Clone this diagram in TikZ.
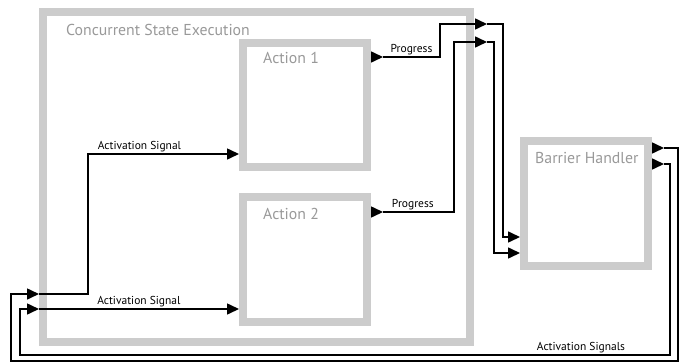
\documentclass[tikz,border=0pt]{standalone}
\usepackage{fontspec}
\setmainfont{PT Sans}
\usetikzlibrary{arrows.meta}
\definecolor{boxgray}{HTML}{CCCCCC}
\definecolor{titlegray}{HTML}{999999}

\begin{document}
\begin{tikzpicture}
  [
    x = 1pt, y = -1pt,
    box/.style = {draw = boxgray, line width = 8pt, inner sep = 0pt},
    title/.style = {text = titlegray, anchor = base west, inner sep = 0pt, font = \fontsize{15.8}{18}\selectfont},
    wire/.style = {line width = 1.6pt},
    tip/.style = {-{Triangle[length = 12pt, width = 11pt]}},
    sig/.style = {inner sep = 1.5pt, font = \fontsize{11.5}{13}\selectfont},
  ]

  \useasboundingbox (0,0) rectangle (683,362);

  \node[box, minimum width = 427pt, minimum height = 330pt] (cse) at (256.5,177) {};
  \node[box, minimum width = 124pt, minimum height = 124pt] (act1) at (305,105) {};
  \node[box, minimum width = 124pt, minimum height = 125pt] (act2) at (305,259.5) {};
  \node[box, minimum width = 124pt, minimum height = 125pt] (barrier) at (586,203.5) {};

  \node[title] (cse-title) at (66,35) {Concurrent State Execution};
  \node[title] (act1-title) at (263,63) {Action 1};
  \node[title] (act2-title) at (263,219) {Action 2};
  \node[title] (barrier-title) at (535,163) {Barrier Handler};

  \coordinate (act1-out) at (383,57);
  \coordinate (act2-out) at (383,212);
  \coordinate (cse-out1) at (487,24);
  \coordinate (cse-out2) at (487,42);
  \coordinate (barrier-out1) at (664,148);
  \coordinate (barrier-out2) at (664,164);
  \coordinate (cse-in1) at (cse.west |- 0,294);
  \coordinate (cse-in2) at (cse.west |- 0,309);

  \draw[wire, tip] (act1.east |- act1-out) -- (act1-out);
  \draw[wire, tip] (act2.east |- act2-out) -- (act2-out);
  \draw[wire, tip] (barrier.east |- barrier-out1) -- (barrier-out1);
  \draw[wire, tip] (barrier.east |- barrier-out2) -- (barrier-out2);

  \draw[wire, tip] (act1-out) -- node[sig, above] {Progress} ++(57,0) |- (cse-out1);
  \draw[wire, tip] (act2-out) -- node[sig, above, pos = 0.42] {Progress} ++(71,0) |- (cse-out2);
  \draw[wire, tip] (cse-out1) -| (503,237) -- (barrier.west |- 0,237);
  \draw[wire, tip] (cse-out2) -| (494,253) -- (barrier.west |- 0,253);

  \draw[wire, tip] (barrier-out1) -| (678,361) -| (11,294) -- (cse-in1);
  \draw[wire, tip] (barrier-out2) -| (670,355)
    -- node[sig, above, pos = 0.137] {Activation Signals} (20,355) |- (cse-in2);

  \draw[wire, tip] (cse-in1) -| (88,154)
    -- node[sig, above right, pos = 0.05] {Activation Signal} (act1.west |- 0,154);
  \draw[wire, tip] (cse-in2)
    -- node[sig, above right, pos = 0.28] {Activation Signal} (act2.west |- 0,309);

\end{tikzpicture}
\end{document}
